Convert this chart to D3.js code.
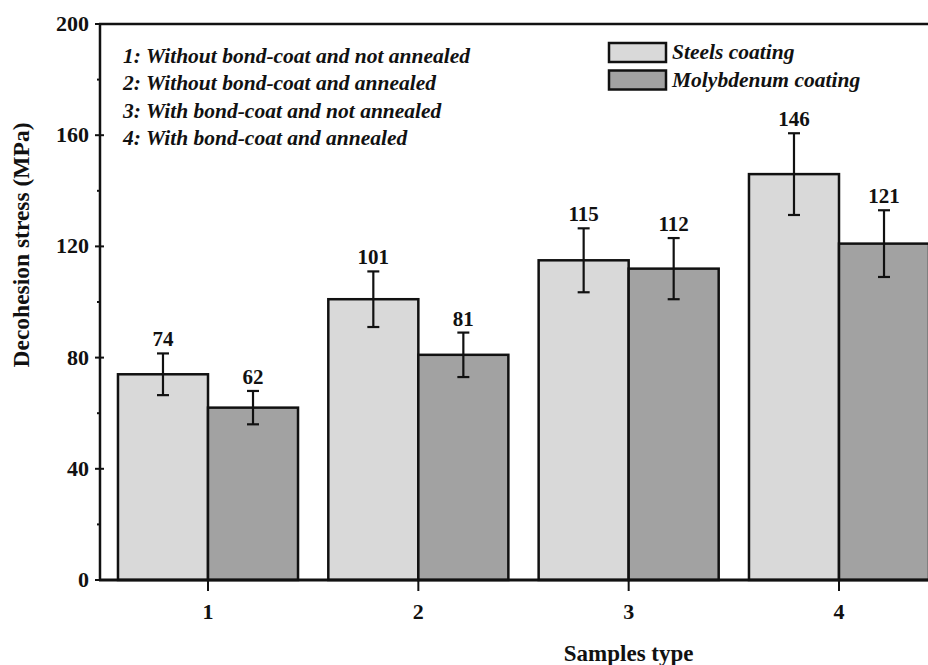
<!DOCTYPE html>
<html>
<head>
<meta charset="utf-8">
<script src="https://cdn.jsdelivr.net/npm/d3@7"></script>
<style>
  html, body { margin: 0; padding: 0; background: #fff; }
  svg { display: block; }
  text { font-family: "Liberation Serif", "Times New Roman", serif; font-weight: bold; fill: #111; }
</style>
</head>
<body>
<svg id="chart" width="928" height="665"></svg>
<script>
// ---- data ----
const categories = [1, 2, 3, 4];
const steelValues = [74, 101, 115, 146];
const molyValues = [62, 81, 112, 121];
const steelErrors = [7.5, 10, 11.5, 14.7];
const molyErrors = [6, 8, 11, 12];
const yTickValues = [0, 40, 80, 120, 160, 200];
const yMinorTickValues = [20, 60, 100, 140, 180];
const seriesNames = ["Steels coating", "Molybdenum coating"];
const seriesColors = ["#d9d9d9", "#a2a2a2"];
const notes = [
  "1: Without bond-coat and not annealed",
  "2: Without bond-coat and annealed",
  "3: With bond-coat and not annealed",
  "4: With bond-coat and annealed"
];
const xTitle = "Samples type";
const yTitle = "Decohesion stress (MPa)";

// ---- scales ----
const svg = d3.select("#chart");
const x = d3.scaleLinear().domain([1, 4]).range([208, 839]);
const y = d3.scaleLinear().domain([0, 200]).range([580, 24]);
const barW = x(1.428) - x(1); // bar width in data units
const xLeft = x(0.4865);
const xRight = x(4.6);

const g = svg.append("g");

// bars
const series = [
  { name: seriesNames[0], values: steelValues, errors: steelErrors, color: seriesColors[0], offset: -1 },
  { name: seriesNames[1], values: molyValues, errors: molyErrors, color: seriesColors[1], offset: 0 }
];

series.forEach(s => {
  const data = categories.map((c, i) => ({ c, v: s.values[i], e: s.errors[i] }));
  const grp = g.append("g");
  grp.selectAll("rect").data(data).join("rect")
    .attr("x", d => x(d.c) + s.offset * barW)
    .attr("y", d => y(d.v))
    .attr("width", barW)
    .attr("height", d => y(0) - y(d.v))
    .attr("fill", s.color)
    .attr("stroke", "#111")
    .attr("stroke-width", 2.5);
  const cx = d => x(d.c) + s.offset * barW + barW / 2;
  // error bars
  grp.selectAll("line.err").data(data).join("line")
    .attr("class", "err")
    .attr("x1", cx).attr("x2", cx)
    .attr("y1", d => y(d.v + d.e)).attr("y2", d => y(d.v - d.e))
    .attr("stroke", "#111").attr("stroke-width", 2.2);
  grp.selectAll("line.capt").data(data).join("line")
    .attr("class", "capt")
    .attr("x1", d => cx(d) - 6).attr("x2", d => cx(d) + 6)
    .attr("y1", d => y(d.v + d.e)).attr("y2", d => y(d.v + d.e))
    .attr("stroke", "#111").attr("stroke-width", 2.2);
  grp.selectAll("line.capb").data(data).join("line")
    .attr("class", "capb")
    .attr("x1", d => cx(d) - 6).attr("x2", d => cx(d) + 6)
    .attr("y1", d => y(d.v - d.e)).attr("y2", d => y(d.v - d.e))
    .attr("stroke", "#111").attr("stroke-width", 2.2);
  // value labels
  grp.selectAll("text.val").data(data).join("text")
    .attr("class", "val")
    .attr("x", cx)
    .attr("y", d => y(d.v + d.e) - 7)
    .attr("text-anchor", "middle")
    .attr("font-size", 21)
    .text(d => d.v);
});

// axes frame
g.append("line").attr("x1", xLeft).attr("x2", xLeft).attr("y1", y(0)).attr("y2", y(200))
  .attr("stroke", "#111").attr("stroke-width", 2.5);
g.append("line").attr("x1", xLeft - 1).attr("x2", xRight).attr("y1", y(0)).attr("y2", y(0))
  .attr("stroke", "#111").attr("stroke-width", 3);
g.append("line").attr("x1", xLeft - 1).attr("x2", xRight).attr("y1", y(200)).attr("y2", y(200))
  .attr("stroke", "#111").attr("stroke-width", 2.5);

// y ticks
g.selectAll("line.ytick").data(yTickValues).join("line")
  .attr("class", "ytick")
  .attr("x1", xLeft - 5).attr("x2", xLeft + 4)
  .attr("y1", d => y(d)).attr("y2", d => y(d))
  .attr("stroke", "#111").attr("stroke-width", 2);
g.selectAll("line.yminor").data(yMinorTickValues).join("line")
  .attr("class", "yminor")
  .attr("x1", xLeft - 3).attr("x2", xLeft)
  .attr("y1", d => y(d)).attr("y2", d => y(d))
  .attr("stroke", "#111").attr("stroke-width", 2);
g.selectAll("text.ylab").data(yTickValues).join("text")
  .attr("class", "ylab")
  .attr("x", xLeft - 11)
  .attr("y", d => y(d) + 7)
  .attr("text-anchor", "end")
  .attr("font-size", 22)
  .text(d => d);

// x ticks
g.selectAll("line.xtick").data(categories).join("line")
  .attr("class", "xtick")
  .attr("x1", d => x(d)).attr("x2", d => x(d))
  .attr("y1", y(0)).attr("y2", y(0) + 11)
  .attr("stroke", "#111").attr("stroke-width", 2);
g.selectAll("text.xlab").data(categories).join("text")
  .attr("class", "xlab")
  .attr("x", d => x(d))
  .attr("y", y(0) + 39)
  .attr("text-anchor", "middle")
  .attr("font-size", 22)
  .text(d => d);

// titles
g.append("text").attr("x", x(3)).attr("y", 661)
  .attr("text-anchor", "middle").attr("font-size", 23).text(xTitle);
g.append("text").attr("transform", "translate(29,245) rotate(-90)")
  .attr("text-anchor", "middle").attr("font-size", 23.5).text(yTitle);

// notes
g.selectAll("text.note").data(notes).join("text")
  .attr("class", "note")
  .attr("x", 123)
  .attr("y", (d, i) => 63 + i * 27.3)
  .attr("font-size", 21.5)
  .attr("font-style", "italic")
  .text(d => d);

// legend
const leg = g.append("g");
series.forEach((s, i) => {
  leg.append("rect").attr("x", 609).attr("y", 43 + i * 27.5).attr("width", 57).attr("height", 19)
    .attr("fill", s.color).attr("stroke", "#111").attr("stroke-width", 2.5);
  leg.append("text").attr("x", 672).attr("y", 59 + i * 27.5)
    .attr("font-size", 21.5).attr("font-style", "italic").text(s.name);
});
</script>
</body>
</html>
